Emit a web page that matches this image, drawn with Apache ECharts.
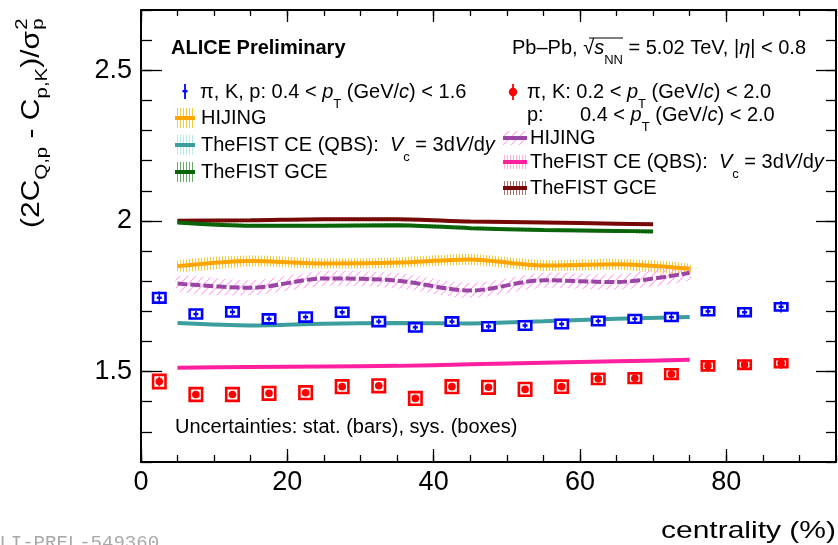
<!DOCTYPE html>
<html>
<head>
<meta charset="utf-8">
<script src="https://cdn.jsdelivr.net/npm/echarts@6/dist/echarts.min.js"></script>
<style>
  html, body { margin: 0; padding: 0; background: #fff; }
  #chart { width: 838px; height: 545px; }
</style>
</head>
<body>
<div id="chart"></div>
<script>
// ---- measured values ----------------------------------------------------
const centrality = [2.5, 7.5, 12.5, 17.5, 22.5, 27.5, 32.5, 37.5, 42.5, 47.5, 52.5, 57.5, 62.5, 67.5, 72.5, 77.5, 82.5, 87.5];

// pi, K, p : 0.4 < pT < 1.6 GeV/c
const piKpValue = [1.745, 1.691, 1.698, 1.675, 1.681, 1.697, 1.666, 1.647, 1.666, 1.650, 1.653, 1.658, 1.668, 1.675, 1.681, 1.700, 1.697, 1.715];
const piKpStat  = [0.021, 0.010, 0.010, 0.009, 0.009, 0.009, 0.009, 0.009, 0.009, 0.009, 0.009, 0.009, 0.009, 0.010, 0.010, 0.011, 0.016, 0.019];
const piKpSys   = [0.016, 0.015, 0.015, 0.015, 0.015, 0.015, 0.015, 0.014, 0.014, 0.014, 0.014, 0.014, 0.014, 0.013, 0.013, 0.013, 0.013, 0.012];

// pi, K : 0.2 < pT < 2.0 GeV/c ; p : 0.4 < pT < 2.0 GeV/c
const piKValue = [1.467, 1.424, 1.424, 1.428, 1.430, 1.450, 1.453, 1.411, 1.450, 1.448, 1.441, 1.450, 1.476, 1.478, 1.492, 1.519, 1.523, 1.528];
const piKStat  = [0.016, 0.011, 0.011, 0.011, 0.011, 0.011, 0.011, 0.011, 0.011, 0.011, 0.011, 0.011, 0.011, 0.011, 0.012, 0.013, 0.017, 0.019];
const piKSys   = [0.022, 0.021, 0.021, 0.021, 0.021, 0.021, 0.021, 0.021, 0.021, 0.021, 0.021, 0.020, 0.017, 0.016, 0.016, 0.015, 0.014, 0.013];

// ---- model curves --------------------------------------------------------
const modelCent = [5, 15, 25, 35, 45, 55, 65, 75];
const hijingPiKp    = [1.850, 1.867, 1.859, 1.862, 1.872, 1.852, 1.856, 1.841];
const hijingPiKpErr = [0.018, 0.018, 0.017, 0.017, 0.018, 0.018, 0.018, 0.017];
const hijingPiK     = [1.792, 1.778, 1.809, 1.802, 1.769, 1.803, 1.797, 1.828];
const hijingPiKErr  = [0.025, 0.025, 0.025, 0.025, 0.025, 0.025, 0.025, 0.025];
const cePiKp    = [1.661, 1.653, 1.659, 1.661, 1.660, 1.667, 1.675, 1.681];
const cePiKpErr = [0.005, 0.005, 0.005, 0.005, 0.005, 0.005, 0.005, 0.005];
const cePiK     = [1.513, 1.515, 1.517, 1.519, 1.524, 1.529, 1.534, 1.539];
const cePiKErr  = [0.004, 0.004, 0.004, 0.004, 0.004, 0.004, 0.004, 0.004];

const gceCent = [5, 15, 25, 35, 45, 55, 65, 70];
const gcePiKp    = [1.995, 1.984, 1.984, 1.986, 1.976, 1.970, 1.967, 1.965];
const gcePiKpErr = [0.006, 0.006, 0.006, 0.006, 0.006, 0.006, 0.006, 0.006];
const gcePiK     = [2.001, 2.002, 2.006, 2.006, 1.998, 1.995, 1.991, 1.989];
const gcePiKErr  = [0.005, 0.005, 0.005, 0.005, 0.005, 0.005, 0.005, 0.005];

// ---- axis ranges ---------------------------------------------------------
const xRange = [0, 95];
const yRange = [1.2, 2.7];
const xLabelRange = [0, 80];   // labelled ticks 0, 20, ..., 80
const yLabelRange = [1.5, 2.5]; // labelled ticks 1.5, 2, 2.5

// ---- styling helpers -----------------------------------------------------
const FONT = '"Liberation Sans", Arial, Helvetica, sans-serif';
const C = {
  blue: '#0000ff', red: '#ff0000',
  orange: '#ffa500', yellow: '#f3cc3a',
  purple: '#9b45a5', pinkHatch: '#ffa8f2',
  teal: '#3d9e9e', cyan: '#b8ecec',
  pink: '#ff1f9f', pinkLight: '#ffb3dc',
  green: '#0a640a', greenHatch: '#6aa86a',
  maroon: '#760808', maroonHatch: '#b07070'
};

function hatch(color, kind, size, width) {
  const cv = document.createElement('canvas');
  cv.width = size; cv.height = size;
  const g = cv.getContext('2d');
  g.strokeStyle = color;
  g.lineWidth = width || 1;
  g.beginPath();
  if (kind === 'v') {
    g.moveTo(0.5, 0); g.lineTo(0.5, size);
  } else {
    // rising diagonal, drawn three times so the tile joins seamlessly
    for (let k = -1; k <= 1; k++) {
      g.moveTo(k * size, size); g.lineTo(k * size + size, 0);
    }
  }
  g.stroke();
  return { image: cv, repeat: 'repeat' };
}

const P = {
  yellow: hatch(C.yellow, 'v', 3, 1),
  pinkDiag: hatch(C.pinkHatch, 'd', 8, 1.2),
  cyan: hatch(C.cyan, 'v', 3, 1),
  pinkV: hatch(C.pinkLight, 'v', 3, 1),
  greenV: hatch(C.greenHatch, 'v', 3, 1),
  maroonV: hatch(C.maroonHatch, 'v', 3, 1)
};

// uncertainty band of a model, drawn as a filled polygon in data space
function bandSeries(xs, mid, err, fill, z) {
  return {
    type: 'custom', silent: true, z: z, clip: true,
    data: [[xs[0], mid[0]]],
    renderItem: function (params, api) {
      const up = xs.map((x, i) => api.coord([x, mid[i] + err[i]]));
      const lo = xs.map((x, i) => api.coord([x, mid[i] - err[i]])).reverse();
      return { type: 'polygon', shape: { points: up.concat(lo), smooth: 0.25 }, style: { fill: fill } };
    }
  };
}

// central model line
function lineSeries(xs, mid, color, dash, z) {
  return {
    type: 'line', silent: true, z: z, symbol: 'none', smooth: 0.3,
    data: xs.map((x, i) => [x, mid[i]]),
    lineStyle: { color: color, width: 4, type: dash || 'solid', cap: 'butt' }
  };
}

// data points: systematic box, statistical bar, marker
function pointSeries(val, stat, sys, color, marker) {
  return {
    type: 'custom', silent: true, z: 20,
    data: centrality.map((c, i) => [c, val[i], stat[i], sys[i]]),
    renderItem: function (params, api) {
      const x = api.value(0), y = api.value(1), st = api.value(2), sy = api.value(3);
      const hw = 0.85;
      const a = api.coord([x - hw, y + sy]);
      const b = api.coord([x + hw, y - sy]);
      const c = api.coord([x, y]);
      const s0 = api.coord([x, y + st]);
      const s1 = api.coord([x, y - st]);
      const kids = [
        { type: 'rect', shape: { x: a[0], y: a[1], width: b[0] - a[0], height: b[1] - a[1] },
          style: { fill: '#fff', stroke: color, lineWidth: 2.6 } },
        { type: 'line', shape: { x1: s0[0], y1: s0[1], x2: s1[0], y2: s1[1] },
          style: { stroke: color, lineWidth: 1.6 } }
      ];
      if (marker === 'circle') {
        kids.push({ type: 'circle', shape: { cx: c[0], cy: c[1], r: 3.8 }, style: { fill: color } });
      } else {
        kids.push({ type: 'rect', shape: { x: c[0] - 2.5, y: c[1] - 1.2, width: 5, height: 2.4 }, style: { fill: color } });
      }
      return { type: 'group', children: kids };
    }
  };
}

// ---- layout: main plot frame plus two helper grids carrying the long ticks --
const FRAME = { left: 141, right: 2, top: 10, bottom: 83 };
const W = 838, H = 545;
const plotW = W - FRAME.left - FRAME.right;
const plotH = H - FRAME.top - FRAME.bottom;
const pxX = v => FRAME.left + (v - xRange[0]) / (xRange[1] - xRange[0]) * plotW;
const pxY = v => FRAME.top + (yRange[1] - v) / (yRange[1] - yRange[0]) * plotH;

const grids = [
  Object.assign({ containLabel: false }, FRAME),
  { containLabel: false, left: FRAME.left, right: W - pxX(xLabelRange[1]), top: FRAME.top, bottom: FRAME.bottom },
  { containLabel: false, left: FRAME.left, right: FRAME.right, top: pxY(yLabelRange[1]), bottom: H - pxY(yLabelRange[0]) }
];

const frameLine = { show: true, onZero: false, lineStyle: { color: '#000', width: 2 } };
const tickStyle = { color: '#000', width: 1.3 };
const tickLabel = { show: true, color: '#000', fontFamily: FONT, fontSize: 27 };
function ax(gridIndex, position, range, interval, len, opts) {
  return Object.assign({
    type: 'value', gridIndex: gridIndex, position: position,
    min: range[0], max: range[1], interval: interval,
    axisLine: { show: false }, splitLine: { show: false },
    axisTick: { show: true, inside: true, length: len, lineStyle: tickStyle },
    axisLabel: { show: false }
  }, opts);
}
const hiddenAxis = gridIndex => ({ type: 'value', gridIndex: gridIndex, show: false, min: 0, max: 1 });

const xAxes = [
  ax(0, 'bottom', xRange, 5, 7, { axisLine: frameLine }),
  ax(0, 'top', xRange, 5, 6, { axisLine: frameLine }),
  ax(1, 'bottom', xLabelRange, 20, 13, { axisLabel: Object.assign({ margin: 7 }, tickLabel) }),
  ax(1, 'top', xLabelRange, 20, 12),
  hiddenAxis(2)
];
const yAxes = [
  ax(0, 'left', yRange, 0.1, 11, { axisLine: frameLine }),
  ax(0, 'right', yRange, 0.1, 10, { axisLine: frameLine }),
  ax(2, 'left', yLabelRange, 0.5, 21, { axisLabel: Object.assign({ margin: 9 }, tickLabel) }),
  ax(2, 'right', yLabelRange, 0.5, 20),
  hiddenAxis(1)
];

// ---- text and legend ----------------------------------------------------
function rich(size, extra) {
  return Object.assign({ fontFamily: FONT, fontSize: size, fill: '#000' }, extra);
}
const legendRich = {
  i: rich(20, { fontStyle: 'italic', lineHeight: 38 }),
  s: rich(13, { lineHeight: 13, verticalAlign: 'bottom' })
};
function text(x, y, str, size, extra) {
  return {
    type: 'text', x: x, y: y, silent: true, z: 100,
    style: Object.assign({
      text: str, fontFamily: FONT, fontSize: size, fill: '#000',
      align: 'left', verticalAlign: 'middle', lineHeight: 38, rich: legendRich
    }, extra)
  };
}
function swatch(x, y, w, h, fill, lineColor) {
  return [
    { type: 'rect', silent: true, z: 100, shape: { x: x, y: y, width: w, height: h }, style: { fill: fill } },
    { type: 'line', silent: true, z: 101, shape: { x1: x, y1: y + h / 2, x2: x + w, y2: y + h / 2 },
      style: { stroke: lineColor, lineWidth: 4 } }
  ];
}

const vcText = 'TheFIST CE (QBS):  {i|V}{s|c} = 3d{i|V}/d{i|y}';
const ptRange = (lo, hi) => lo + ' < {i|p}{s|T} (GeV/{i|c}) < ' + hi;

const graphics = [
  text(171, 48, 'ALICE Preliminary', 20, { fontWeight: 'bold' }),
  text(512, 48, 'Pb\u2013Pb, \u221A{i|s}{s|NN} = 5.02 TeV, |{i|\u03B7}| < 0.8', 20),
  { type: 'line', silent: true, z: 100, shape: { x1: 589, y1: 38, x2: 623, y2: 38 }, style: { stroke: '#000', lineWidth: 1.2 } },

  // left legend
  { type: 'line', silent: true, z: 100, shape: { x1: 185, y1: 84, x2: 185, y2: 99 }, style: { stroke: C.blue, lineWidth: 1.8 } },
  { type: 'rect', silent: true, z: 100, shape: { x: 182.5, y: 90, width: 5, height: 2.4 }, style: { fill: C.blue } },
  text(200, 92, '\u03C0, K, p: ' + ptRange('0.4', '1.6'), 20),
  ...swatch(175, 108, 20, 20, P.yellow, C.orange),
  text(201, 118, 'HIJING', 20),
  ...swatch(175, 135, 20, 20, P.cyan, C.teal),
  text(201, 145, vcText, 20),
  ...swatch(175, 162, 20, 20, P.greenV, C.green),
  text(201, 172, 'TheFIST GCE', 20),

  // right legend
  { type: 'line', silent: true, z: 100, shape: { x1: 513, y1: 84, x2: 513, y2: 100 }, style: { stroke: C.red, lineWidth: 1.8 } },
  { type: 'circle', silent: true, z: 100, shape: { cx: 513, cy: 92, r: 4.2 }, style: { fill: C.red } },
  text(527, 92, '\u03C0, K: ' + ptRange('0.2', '2.0'), 20),
  text(527, 115, 'p:', 20),
  text(580, 115, ptRange('0.4', '2.0'), 20),
  ...swatch(503, 131, 24, 14, P.pinkDiag, C.purple),
  text(530, 138, 'HIJING', 20),
  ...swatch(503, 155, 24, 14, P.pinkV, C.pink),
  text(530, 162, vcText, 20),
  ...swatch(503, 181, 24, 14, P.maroonV, C.maroon),
  text(530, 188, 'TheFIST GCE', 20),

  text(175, 427, 'Uncertainties: stat. (bars), sys. (boxes)', 20),

  // axis titles
  {
    type: 'text', silent: true, z: 100, x: 836, y: 531, scaleX: 1.25, originX: 0, originY: 0,
    style: { text: 'centrality (%)', fontFamily: FONT, fontSize: 24, fill: '#000', align: 'right', verticalAlign: 'middle' }
  },
  {
    type: 'group', silent: true, x: 32, y: 31, rotation: Math.PI / 2, scaleX: 1.2,
    children: [
      { type: 'text', x: 0, y: 0,
        style: { text: '(2C{s|Q,p} - C{s|p,K})/\u03C3', fontFamily: FONT, fontSize: 25, fill: '#000',
                 align: 'right', verticalAlign: 'middle', lineHeight: 38,
                 rich: { s: rich(17, { lineHeight: 26, verticalAlign: 'bottom' }) } } },
      { type: 'text', x: 1, y: -10, style: { text: '2', fontFamily: FONT, fontSize: 17, fill: '#000', align: 'left', verticalAlign: 'middle' } },
      { type: 'text', x: 1, y: 6.5, style: { text: 'p', fontFamily: FONT, fontSize: 17, fill: '#000', align: 'left', verticalAlign: 'middle' } }
    ]
  },

  // figure identifier
  { type: 'text', silent: true, z: 100, x: -12, y: 543,
    style: { text: 'ALI-PREL-549360', fontFamily: '"Liberation Mono", "DejaVu Sans Mono", monospace', fontSize: 19,
             fill: '#a8a8a8', align: 'left', verticalAlign: 'middle' } }
];

// ---- chart ---------------------------------------------------------------
const chart = echarts.init(document.getElementById('chart'));
chart.setOption({
  backgroundColor: '#fff',
  animation: false,
  grid: grids,
  xAxis: xAxes,
  yAxis: yAxes,
  graphic: graphics,
  series: [
    bandSeries(gceCent, gcePiK, gcePiKErr, P.maroonV, 2),
    bandSeries(gceCent, gcePiKp, gcePiKpErr, P.greenV, 2),
    bandSeries(modelCent, hijingPiKp, hijingPiKpErr, P.yellow, 2),
    bandSeries(modelCent, hijingPiK, hijingPiKErr, P.pinkDiag, 2),
    bandSeries(modelCent, cePiKp, cePiKpErr, P.cyan, 2),
    bandSeries(modelCent, cePiK, cePiKErr, P.pinkV, 2),
    lineSeries(gceCent, gcePiK, C.maroon, null, 5),
    lineSeries(gceCent, gcePiKp, C.green, null, 5),
    lineSeries(modelCent, hijingPiKp, C.orange, null, 5),
    lineSeries(modelCent, hijingPiK, C.purple, [10, 3], 5),
    lineSeries(modelCent, cePiKp, C.teal, null, 5),
    lineSeries(modelCent, cePiK, C.pink, null, 5),
    pointSeries(piKpValue, piKpStat, piKpSys, C.blue, 'cross'),
    pointSeries(piKValue, piKStat, piKSys, C.red, 'circle')
  ]
});
</script>
</body>
</html>
